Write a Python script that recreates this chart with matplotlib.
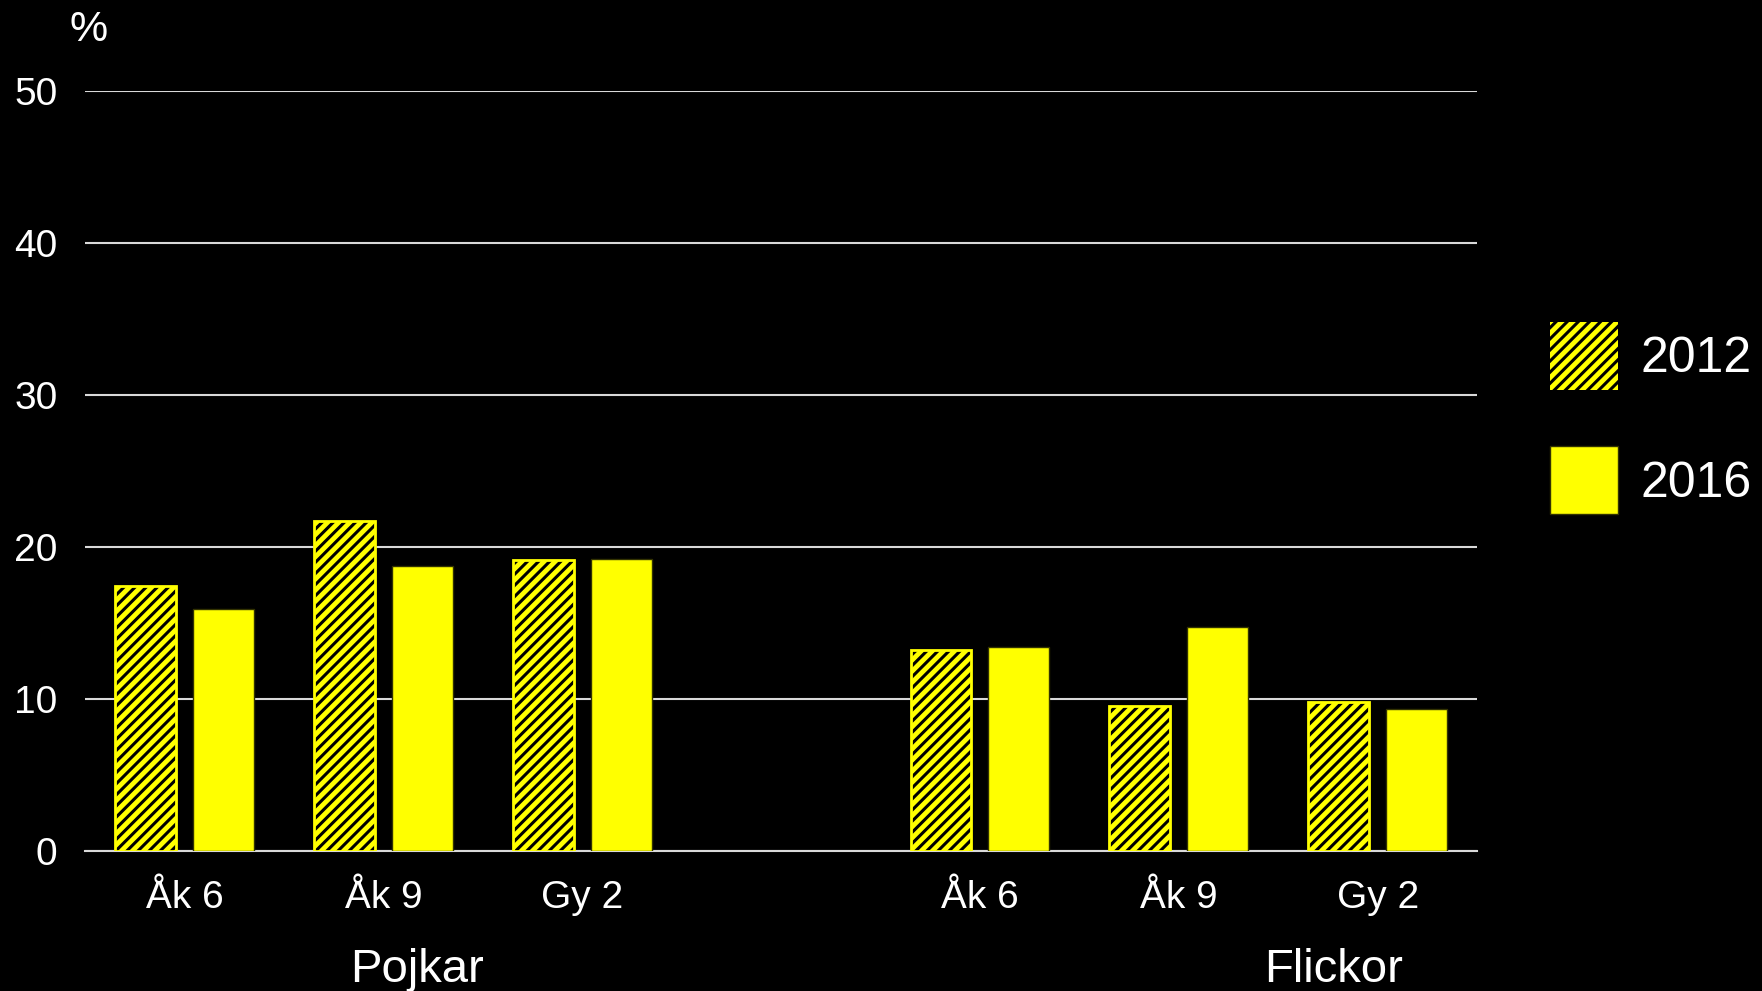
import matplotlib
matplotlib.use('Agg')
import matplotlib.pyplot as plt
from matplotlib.patches import Patch
import numpy as np

plt.rcParams['font.family'] = ['Liberation Sans', 'DejaVu Sans']
plt.rcParams['hatch.linewidth'] = 2.2

tick_labels = ['Åk 6', 'Åk 9', 'Gy 2', 'Åk 6', 'Åk 9', 'Gy 2']
positions = [0, 1, 2, 4, 5, 6]
values_2012 = [17.4, 21.7, 19.1, 13.2, 9.5, 9.8]
values_2016 = [15.9, 18.7, 19.2, 13.4, 14.7, 9.3]
groups = ['Pojkar', 'Flickor']
group_x = [1.17, 5.78]

yellow = '#ffff00'
grid_col = '#d9d9d9'

fig = plt.figure(figsize=(17.62, 9.91), dpi=100, facecolor='black')
ax = fig.add_axes([0.0483, 0.1417, 0.790, 0.7665], facecolor='black')

x = np.array(positions)
w = 0.306
off = 0.196
# 2012: hatched bars (black stripes on yellow), then yellow outline on top
ax.bar(x - off, values_2012, w, color=yellow, edgecolor='black', hatch='///',
       linewidth=0, zorder=3)
ax.bar(x - off, values_2012, w, fill=False, edgecolor=yellow, linewidth=2, zorder=4)
ax.bar(x + off, values_2016, w, color=yellow, edgecolor='#333300', linewidth=1, zorder=3)

ax.set_xlim(-0.5, 6.5)
ax.set_ylim(0, 50)
ax.set_yticks([0, 10, 20, 30, 40, 50])
ax.set_xticks(positions)
ax.set_xticklabels(tick_labels)
ax.tick_params(axis='both', length=0, colors='white', labelsize=28)
ax.tick_params(axis='y', pad=20)
ax.tick_params(axis='x', pad=21)
ax.yaxis.grid(True, color=grid_col, linewidth=1.5, zorder=0)
ax.set_axisbelow(True)
for s in ['left', 'right', 'top']:
    ax.spines[s].set_visible(False)
ax.spines['bottom'].set_color(grid_col)
ax.spines['bottom'].set_linewidth(1.5)

for g, gx in zip(groups, group_x):
    ax.text(gx, -0.157, g, transform=ax.get_xaxis_transform(), ha='center',
            va='center', color='white', fontsize=34)

fig.text(0.050, 0.970, '%', color='white', fontsize=31, ha='center', va='center')

handles = [Patch(facecolor=yellow, edgecolor='black', hatch='///', linewidth=0),
           Patch(facecolor=yellow, edgecolor='#333300', linewidth=1)]
leg = fig.legend(handles, ['2012', '2016'], loc='center left',
                 bbox_to_anchor=(0.8797, 0.578), frameon=False, fontsize=36,
                 handlelength=1.35, handleheight=1.72, labelspacing=1.12,
                 handletextpad=0.45, labelcolor='white', borderpad=0,
                 borderaxespad=0)

fig.savefig('out.png', dpi=100, facecolor='black')
